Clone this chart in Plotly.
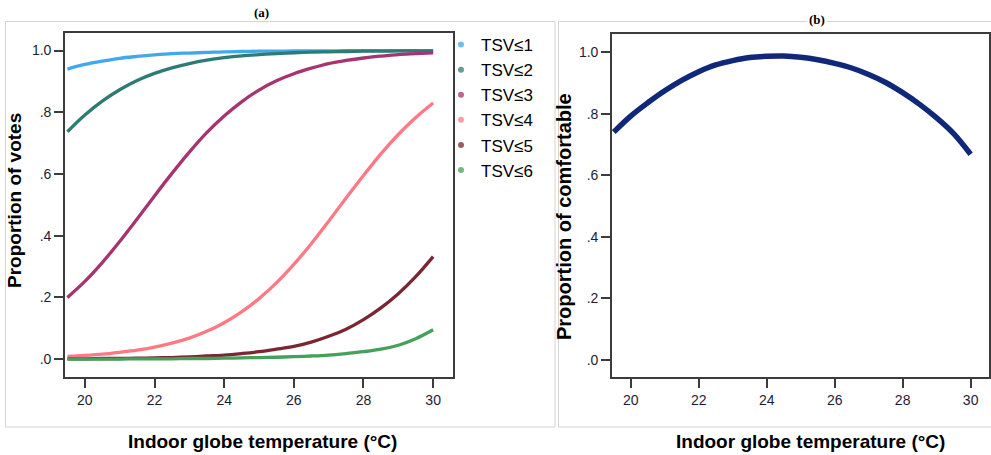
import plotly.graph_objects as go

# ---------------- data ----------------
temp = [19.5, 20.0, 20.5, 21.0, 21.5, 22.0, 22.5, 23.0, 23.5, 24.0, 24.5,
        25.0, 25.5, 26.0, 26.5, 27.0, 27.5, 28.0, 28.5, 29.0, 29.5, 30.0]

tsv1 = [0.940, 0.955, 0.966, 0.975, 0.981, 0.986, 0.990, 0.992, 0.994, 0.996, 0.997,
        0.998, 0.998, 0.999, 0.999, 0.999, 0.9995, 0.9996, 0.9997, 0.9998, 0.9998, 0.9999]
tsv2 = [0.737, 0.791, 0.836, 0.873, 0.903, 0.926, 0.944, 0.958, 0.969, 0.977, 0.983,
        0.987, 0.990, 0.993, 0.995, 0.996, 0.997, 0.998, 0.998, 0.999, 0.999, 0.999]
tsv3 = [0.200, 0.252, 0.313, 0.381, 0.454, 0.529, 0.602, 0.671, 0.734, 0.788, 0.834,
        0.872, 0.902, 0.925, 0.943, 0.958, 0.968, 0.976, 0.982, 0.987, 0.990, 0.993]
tsv4 = [0.009, 0.012, 0.016, 0.022, 0.029, 0.039, 0.052, 0.068, 0.090, 0.118, 0.153,
        0.196, 0.247, 0.307, 0.374, 0.447, 0.522, 0.595, 0.665, 0.728, 0.783, 0.830]
tsv5 = [0.001, 0.001, 0.002, 0.002, 0.003, 0.004, 0.005, 0.007, 0.010, 0.013, 0.018,
        0.024, 0.032, 0.041, 0.055, 0.074, 0.097, 0.128, 0.166, 0.212, 0.267, 0.332]
tsv6 = [0.000, 0.000, 0.000, 0.000, 0.001, 0.001, 0.001, 0.002, 0.002, 0.003, 0.004,
        0.005, 0.006, 0.008, 0.010, 0.013, 0.018, 0.024, 0.032, 0.045, 0.066, 0.095]

comfort = [0.740, 0.792, 0.835, 0.874, 0.908, 0.936, 0.958, 0.972, 0.982, 0.986, 0.987,
           0.983, 0.975, 0.963, 0.948, 0.927, 0.901, 0.868, 0.830, 0.786, 0.735, 0.668]

series_names = ["TSV≤1", "TSV≤2", "TSV≤3", "TSV≤4", "TSV≤5", "TSV≤6"]
series_vals = [tsv1, tsv2, tsv3, tsv4, tsv5, tsv6]
series_colors = ["#42a8ee", "#2d7c74", "#a6346f", "#ff7984", "#7a2733", "#45a05a"]

x_ticks = [20, 22, 24, 26, 28, 30]
y_ticks = [0.0, 0.2, 0.4, 0.6, 0.8, 1.0]
y_ticktext = [".0", ".2", ".4", ".6", ".8", "1.0"]

# ---------------- figure ----------------
W, H = 991, 455
fig = go.Figure()

for name, vals, col in zip(series_names, series_vals, series_colors):
    fig.add_trace(go.Scatter(x=temp, y=vals, mode="lines", line=dict(color=col, width=3.3, shape="spline"),
                             showlegend=False, xaxis="x", yaxis="y", hoverinfo="skip"))
for name, col in zip(series_names, series_colors):
    fig.add_trace(go.Scatter(x=[None], y=[None], mode="markers", name=name,
                             marker=dict(symbol="circle", size=6, color=col, opacity=0.75),
                             xaxis="x", yaxis="y"))

fig.add_trace(go.Scatter(x=temp, y=comfort, mode="lines", line=dict(color="#10287a", width=5.5, shape="spline"),
                         showlegend=False, xaxis="x2", yaxis="y2"))

def px_x(p):
    return p / W

def px_y(p):
    return 1 - p / H

tickfont = dict(family="Liberation Sans, Arial", size=14, color="#1c1c3a")
axis_common = dict(showgrid=False, zeroline=False, showline=True, mirror=True,
                   linecolor="#3c3c3c", linewidth=1.6, ticks="outside", ticklen=9,
                   tickwidth=1.6, tickcolor="#3c3c3c", tickfont=tickfont)

fig.update_layout(
    width=W, height=H,
    margin=dict(l=0, r=0, t=0, b=0),
    paper_bgcolor="white", plot_bgcolor="white",
    xaxis=dict(domain=[px_x(65), px_x(453)], range=[19.43, 30.57], tickvals=x_ticks,
               anchor="y", **axis_common),
    yaxis=dict(domain=[px_y(377), px_y(33)], range=[-0.058, 1.057], tickvals=y_ticks,
               ticktext=y_ticktext, anchor="x", **axis_common),
    xaxis2=dict(domain=[px_x(612), px_x(989)], range=[19.45, 30.54], tickvals=x_ticks,
                anchor="y2", **axis_common),
    yaxis2=dict(domain=[px_y(377), px_y(33.5)], range=[-0.055, 1.06], tickvals=y_ticks,
                ticktext=y_ticktext, anchor="x2", **axis_common),
    legend=dict(x=px_x(441), y=px_y(27), xanchor="left", yanchor="top",
                font=dict(family="Liberation Sans, Arial", size=17, color="black"),
                bgcolor="rgba(0,0,0,0)", itemwidth=30, tracegroupgap=0),
    showlegend=True,
)

# panel borders
fig.add_shape(type="rect", xref="paper", yref="paper", x0=px_x(5.5), x1=px_x(555),
              y0=px_y(427), y1=px_y(21.5), line=dict(color="#d4d4d4", width=1), layer="below")
fig.add_shape(type="rect", xref="paper", yref="paper", x0=px_x(558.5), x1=px_x(1000),
              y0=px_y(427), y1=px_y(21.5), line=dict(color="#d4d4d4", width=1), layer="below")

title_font = dict(family="Liberation Serif, Times New Roman", size=13, color="black")
xt_font = dict(family="Liberation Sans, Arial", size=19, color="black")
yt_font_a = dict(family="Liberation Sans, Arial", size=19, color="black")
yt_font_b = dict(family="Liberation Sans, Arial", size=20, color="black")
annots = [
    dict(text="<b>(a)</b>", x=px_x(261), y=px_y(12), font=title_font),
    dict(text="<b>(b)</b>", x=px_x(817), y=px_y(20), font=title_font, bgcolor="white"),
    dict(text="<b>Indoor globe temperature (°C)</b>", x=px_x(262), y=px_y(441), font=xt_font),
    dict(text="<b>Indoor globe temperature (°C)</b>", x=px_x(810), y=px_y(441), font=xt_font),
    dict(text="<b>Proportion of votes</b>", x=px_x(14), y=px_y(201), font=yt_font_a, textangle=-90),
    dict(text="<b>Proportion of comfortable</b>", x=px_x(564), y=px_y(217), font=yt_font_b, textangle=-90),
]
for a in annots:
    fig.add_annotation(xref="paper", yref="paper", showarrow=False, xanchor="center", yanchor="middle", **a)

fig.write_html("out.html", config={"displayModeBar": False},
               post_script="document.body.style.margin='0px';document.body.style.overflow='hidden';")
